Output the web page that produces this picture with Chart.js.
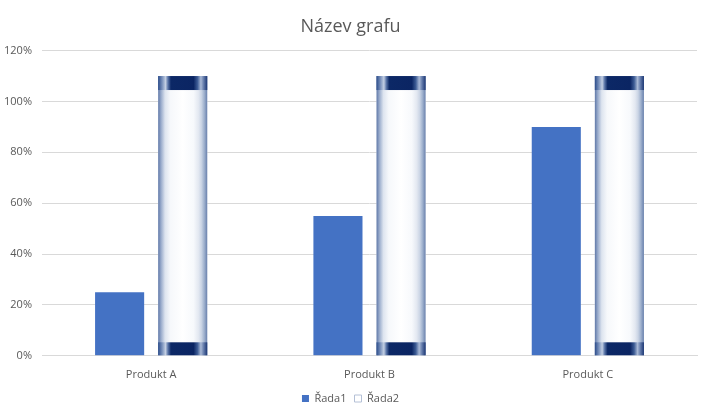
<!DOCTYPE html>
<html lang="cs">
<head>
<meta charset="UTF-8">
<title>Název grafu</title>
<script src="https://cdn.jsdelivr.net/npm/chart.js"></script>
<style>
  body { margin: 0; background: #fff; }
  #wrap { width: 711px; height: 414px; }
</style>
</head>
<body>
<div id="wrap"><canvas id="graf"></canvas></div>
<script>
    // data
    const kategorie = ['Produkt A', 'Produkt B', 'Produkt C'];
    const rada1 = [0.25, 0.55, 0.90];
    const rada2 = [1.10, 1.10, 1.10];

    const sedy = '#595959';
    const fontRodina = "'Open Sans', 'Noto Sans', sans-serif";

    // valec (Řada2) - nakresli texturu pres sloupec
    function pruh(ctx, x0, x1, stops) {
        const g = ctx.createLinearGradient(x0, 0, x1, 0);
        stops.forEach(s => g.addColorStop(s[0], s[1]));
        return g;
    }

    const valecPlugin = {
        id: 'valec',
        afterDatasetDraw(chart, args) {
            if (args.index !== 1) return;
            const ctx = chart.ctx;
            args.meta.data.forEach(el => {
                const p = el.getProps(['x', 'y', 'base', 'width'], true);
                const x0 = p.x - p.width / 2, x1 = p.x + p.width / 2;
                const top = Math.min(p.y, p.base), bot = Math.max(p.y, p.base);
                ctx.save();
                ctx.fillStyle = pruh(ctx, x0, x1, [
                    [0, '#5f78a8'], [0.06, '#9aaccc'], [0.14, '#dde4ef'], [0.25, '#f6f8fb'],
                    [0.5, '#ffffff'], [0.72, '#f7f9fc'], [0.82, '#e3e8f1'], [0.88, '#cbd5e5'],
                    [0.94, '#9eb0cd'], [1, '#6880ac']
                ]);
                ctx.fillRect(x0, top, x1 - x0, bot - top);
                const cap = pruh(ctx, x0, x1, [
                    [0, '#2b4c8a'], [0.08, '#7890bb'], [0.15, '#c3cfe3'], [0.2, '#5a75a8'],
                    [0.26, '#0c2866'], [0.72, '#0b2563'], [0.8, '#3d5c95'], [0.87, '#a9b9d6'],
                    [0.93, '#6179a9'], [1, '#1b3673']
                ]);
                ctx.fillStyle = cap;
                ctx.fillRect(x0, top, x1 - x0, 14);
                ctx.fillRect(x0, bot - 13, x1 - x0, 13);
                ctx.restore();
            });
        }
    };

    new Chart(document.getElementById('graf'), {
        type: 'bar',
        data: {
            labels: kategorie,
            datasets: [
                { label: 'Řada1', data: rada1, backgroundColor: '#4472c4',
                  categoryPercentage: 0.578, barPercentage: 0.778 },
                { label: 'Řada2', data: rada2, backgroundColor: '#ffffff',
                  borderColor: '#b4c0d6', borderWidth: 0,
                  categoryPercentage: 0.578, barPercentage: 0.778 }
            ]
        },
        options: {
            responsive: true,
            maintainAspectRatio: false,
            animation: false,
            layout: { padding: { left: 4, right: 14, top: 12, bottom: 0 } },
            plugins: {
                title: {
                    display: true, text: 'Název grafu', color: sedy,
                    font: { family: fontRodina, size: 18, weight: 'normal' },
                    padding: { top: 4, bottom: 13 }
                },
                legend: {
                    position: 'bottom',
                    labels: {
                        color: sedy, boxWidth: 7, boxHeight: 7, padding: 8,
                        font: { family: fontRodina, size: 11 },
                        generateLabels(chart) {
                            return chart.data.datasets.map((d, i) => ({
                                text: d.label,
                                fillStyle: d.backgroundColor,
                                strokeStyle: i === 1 ? '#b4c0d6' : d.backgroundColor,
                                lineWidth: i === 1 ? 1 : 0,
                                fontColor: sedy,
                                datasetIndex: i
                            }));
                        }
                    }
                },
                tooltip: { enabled: false }
            },
            scales: {
                x: {
                    grid: { display: false },
                    border: { color: '#d9d9d9' },
                    ticks: { color: sedy, font: { family: fontRodina, size: 11 }, padding: 4 }
                },
                y: {
                    min: 0, max: 1.2,
                    afterFit(s) { s.width = 38; },
                    grid: { color: '#d9d9d9', drawTicks: false },
                    border: { display: false },
                    ticks: {
                        stepSize: 0.2, color: sedy, padding: 10,
                        font: { family: fontRodina, size: 11 },
                        callback: v => Math.round(v * 100) + '%'
                    }
                }
            }
        },
        plugins: [valecPlugin]
    });
</script>
</body>
</html>
